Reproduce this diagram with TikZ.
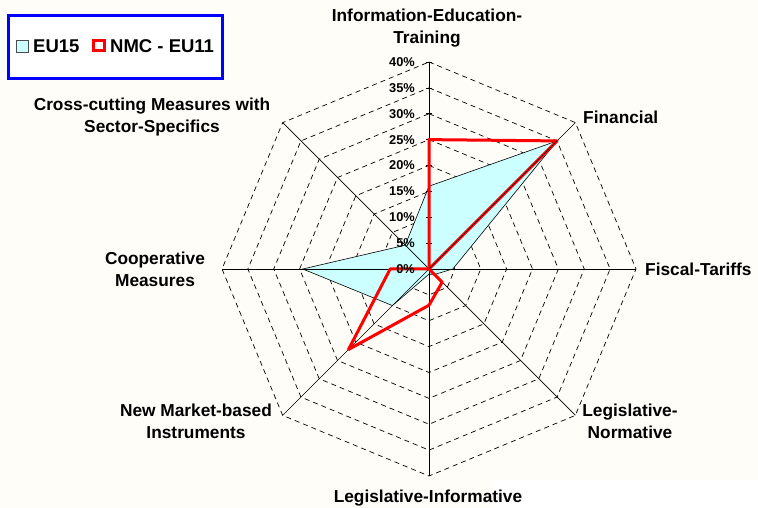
\documentclass[tikz,border=0pt]{standalone}
\usepackage{fontspec}
\setmainfont{Liberation Sans}
\definecolor{bgcream}{RGB}{255,253,247}
\definecolor{eucyan}{RGB}{204,255,255}
\definecolor{nmcred}{RGB}{255,0,0}
\definecolor{legblue}{RGB}{0,0,255}
\begin{document}
\begin{tikzpicture}[x=1pt,y=1pt,
  cat/.style={font=\fontsize{17.3}{22}\selectfont\bfseries, align=center, inner sep=0pt},
  pct/.style={font=\fontsize{12.8}{14}\selectfont\bfseries, anchor=east, inner sep=0pt},
  legtext/.style={font=\fontsize{18.5}{20}\selectfont\bfseries, anchor=west, inner sep=0pt},
  ring/.style={dash pattern=on 5pt off 4pt, line width=0.7pt, draw=black},
  axisline/.style={line width=0.7pt, draw=black},
  eupoly/.style={fill=eucyan, draw=black, line width=0.6pt},
  nmcpoly/.style={draw=nmcred, line width=3pt, line join=round}]
\fill[bgcream] (0,0) rectangle (758,508);
\useasboundingbox (0,0) rectangle (758,508);
\fill[white] (493,0) rectangle (758,28);
\begin{scope}[shift={(429,239)}, x=5.175pt, y=5.175pt]
  \coordinate (O) at (0,0);
  \foreach \r in {5,10,...,40}{
    \draw[ring] (90:\r) -- (45:\r) -- (0:\r) -- (-45:\r) -- (-90:\r) -- (-135:\r) -- (180:\r) -- (135:\r) -- cycle;
  }
  \fill[eucyan] (90:16) -- (45:35) -- (0:4.6) -- (-45:1.5) -- (-90:1) -- (-135:10) -- (180:24.4) -- (135:6.5) -- cycle;
  \foreach \a in {90,45,0,-45,-90,-135,180,135}{
    \coordinate (E\a) at (\a:40);
    \draw[axisline] (O) -- (E\a);
  }
  \foreach \r in {5,10,...,40}{
    \draw[axisline] (-0.5,\r) -- (0.5,\r);
  }
  \draw[eupoly, fill=none] (90:16) -- (45:35) -- (0:4.6) -- (-45:1.5) -- (-90:1) -- (-135:10) -- (180:24.4) -- (135:6.5) -- cycle;
  \draw[nmcpoly] (90:25) -- (45:35) -- (O) -- (-45:3.6) -- (-90:7) -- (-135:22) -- (180:7.5) -- (O) -- cycle;
  \draw[black, line width=0.5pt] (O) -- (45:35);
  \foreach \r in {0,5,...,40}{
    \node[pct] (p\r) at (-2.7,\r) {\r\%};
  }
\end{scope}
% category labels
\node[cat] (info) at (427,480) {Information-Education-\\Training};
\node[cat, anchor=west] (fin) at (583,391) {Financial};
\node[cat, anchor=west] (fis) at (645,239) {Fiscal-Tariffs};
\node[cat] (lnorm) at (630,87) {Legislative-\\Normative};
\node[cat] (linf) at (428,10) {Legislative-Informative};
\node[cat] (nmb) at (196,87) {New Market-based\\Instruments};
\node[cat] (coop) at (155,239) {Cooperative\\Measures};
\node[cat] (cross) at (152,391) {Cross-cutting Measures with\\Sector-Specifics};
% legend
\draw[legblue, line width=3pt, fill=white] (8,429) rectangle (222,492);
\filldraw[fill=eucyan, draw=black!70, line width=0.6pt] (16,456) rectangle (28,468);
\node[legtext] (leu) at (33,462) {EU15};
\draw[nmcred, line width=3pt, fill=white] (93.5,457.5) rectangle (104.5,467.5);
\node[legtext] (lnmc) at (110,462) {NMC - EU11};
\end{tikzpicture}
\end{document}
